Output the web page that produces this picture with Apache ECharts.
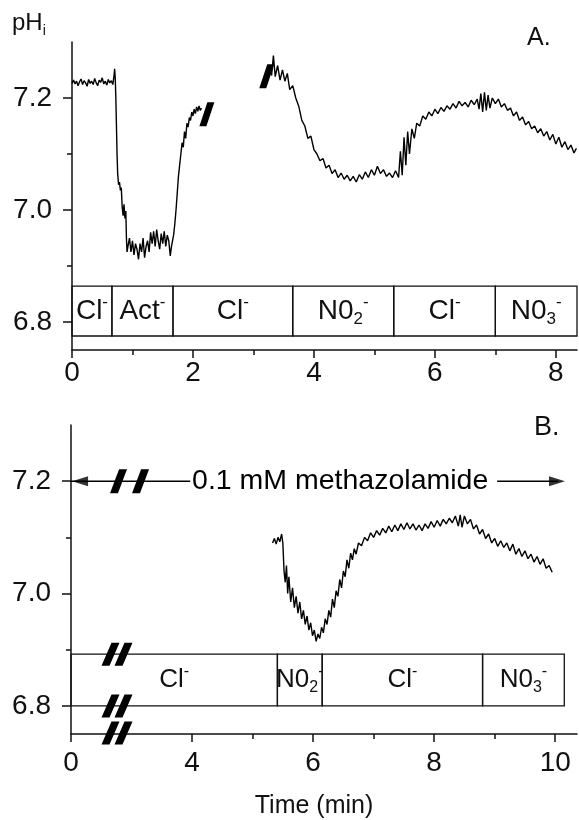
<!DOCTYPE html>
<html><head><meta charset="utf-8">
<script src="https://cdn.jsdelivr.net/npm/echarts@6/dist/echarts.min.js"></script>
<style>html,body{margin:0;padding:0;background:#fff}#c{width:579px;height:820px}</style>
</head><body><div id="c"></div>
<script>
const FONT = '"Liberation Sans", Arial, Helvetica, sans-serif';
const INK = '#111';

// ---------- Panel A ----------
const xTicksA = [0, 2, 4, 6, 8];
const xMinorA = [1, 3, 5, 7];
const yTicks = [6.8, 7.0, 7.2];
const yMinor = [6.9, 7.1];

const traceA1 = [
  [0.000,7.226],[0.025,7.232],[0.050,7.225],[0.075,7.230],[0.100,7.222],[0.125,7.229],[0.150,7.234],
  [0.175,7.224],[0.200,7.231],[0.225,7.227],[0.250,7.221],[0.275,7.233],[0.300,7.226],[0.325,7.230],
  [0.350,7.224],[0.375,7.235],[0.400,7.227],[0.425,7.222],[0.450,7.232],[0.475,7.228],[0.500,7.236],
  [0.525,7.225],[0.550,7.230],[0.575,7.223],[0.600,7.233],[0.625,7.227],[0.650,7.231],[0.675,7.224],
  [0.695,7.240],[0.705,7.252],[0.715,7.236],[0.725,7.200],[0.735,7.150],[0.745,7.100],[0.755,7.065],
  [0.770,7.045],[0.785,7.050],[0.800,7.035],[0.815,7.040],[0.830,7.005],[0.845,6.990],[0.860,7.010],
  [0.875,6.985],[0.890,6.998],[0.900,6.950],[0.910,6.925],
  [0.925,6.935],[0.950,6.950],[0.975,6.925],[1.000,6.945],[1.025,6.920],[1.050,6.940],[1.075,6.930],
  [1.100,6.912],[1.125,6.940],[1.150,6.925],[1.175,6.950],[1.200,6.915],[1.225,6.935],[1.250,6.945],
  [1.275,6.925],[1.300,6.960],[1.325,6.940],[1.350,6.962],[1.375,6.935],[1.400,6.965],[1.425,6.945],
  [1.450,6.930],[1.475,6.958],[1.500,6.940],[1.525,6.962],[1.550,6.935],[1.575,6.955],[1.600,6.945],
  [1.625,6.918],[1.645,6.935],
  [1.660,6.935],[1.680,6.955],[1.700,6.975],[1.720,7.000],[1.740,7.030],[1.760,7.060],[1.780,7.080],
  [1.800,7.100],[1.820,7.120],[1.840,7.112],[1.860,7.140],[1.880,7.128],[1.900,7.155],[1.920,7.148],
  [1.940,7.165],[1.960,7.160],[1.980,7.175],[2.000,7.168],[2.020,7.180],[2.040,7.172],[2.060,7.184],
  [2.080,7.176],[2.100,7.186],[2.120,7.178],[2.140,7.182]
];

const traceA2 = [
  [3.30,7.240],[3.33,7.276],[3.36,7.238],[3.40,7.258],[3.44,7.232],[3.48,7.250],[3.52,7.230],
  [3.56,7.244],[3.60,7.215],[3.65,7.222],[3.70,7.200],[3.75,7.185],[3.80,7.160],[3.85,7.150],
  [3.90,7.128],[3.95,7.132],[4.00,7.108],[4.05,7.100],[4.10,7.088],[4.15,7.092],[4.20,7.075],
  [4.25,7.080],[4.30,7.065],[4.35,7.072],[4.40,7.058],[4.45,7.066],[4.50,7.055],[4.55,7.062],
  [4.60,7.052],[4.65,7.060],[4.70,7.050],[4.75,7.063],[4.80,7.055],[4.85,7.068],[4.90,7.058],
  [4.95,7.072],[5.00,7.062],[5.05,7.078],[5.10,7.065],[5.15,7.072],[5.20,7.060],[5.25,7.066],
  [5.30,7.058],[5.35,7.070],[5.40,7.058],[5.43,7.105],[5.46,7.062],[5.49,7.130],[5.52,7.080],
  [5.55,7.140],[5.58,7.100],[5.62,7.145],[5.66,7.128],[5.70,7.155],[5.75,7.150],[5.80,7.168],
  [5.85,7.162],[5.90,7.175],[5.95,7.168],[6.00,7.180],[6.05,7.172],[6.10,7.183],[6.15,7.176],
  [6.20,7.186],[6.25,7.180],[6.30,7.190],[6.35,7.182],[6.40,7.194],[6.45,7.186],[6.50,7.192],
  [6.55,7.184],[6.60,7.196],[6.65,7.188],[6.70,7.198],[6.73,7.180],[6.76,7.208],[6.79,7.175],
  [6.82,7.210],[6.85,7.178],[6.88,7.205],[6.91,7.182],[6.95,7.200],[7.00,7.190],[7.05,7.198],
  [7.10,7.184],[7.15,7.190],[7.20,7.178],[7.25,7.182],[7.30,7.168],[7.35,7.175],[7.40,7.160],
  [7.45,7.166],[7.50,7.152],[7.55,7.158],[7.60,7.145],[7.65,7.150],[7.70,7.138],[7.75,7.145],
  [7.80,7.132],[7.85,7.140],[7.90,7.125],[7.95,7.135],[8.00,7.118],[8.05,7.130],[8.10,7.112],
  [8.15,7.122],[8.20,7.108],[8.25,7.116],[8.30,7.102],[8.34,7.110]
];

const boxEdgesA = [0, 0.66, 1.67, 3.65, 5.32, 7.0, 8.35];
const boxLabelsA = [['Cl','','-'],['Act','','-'],['Cl','','-'],['N0','2','-'],['Cl','','-'],['N0','3','-']];
const boxRangeA = [6.775, 6.864];
const breaksA = [[2.23, 7.171], [3.22, 7.239]];

// ---------- Panel B (axis is broken: label "0" sits at position 2) ----------
const xTickPosB = [2, 4, 6, 8, 10];
const xTickLabelsB = ['0', '4', '6', '8', '10'];
const xMinorB = [5, 7, 9];

const traceB = [
  [5.33,7.090],[5.36,7.098],[5.39,7.088],[5.42,7.100],[5.45,7.092],[5.48,7.106],[5.50,7.090],
  [5.52,7.040],[5.54,7.020],[5.56,7.050],[5.58,7.000],[5.60,7.030],[5.63,6.985],[5.66,7.010],
  [5.69,6.975],[5.72,6.995],[5.75,6.965],[5.78,6.985],[5.81,6.955],[5.84,6.970],[5.87,6.945],
  [5.90,6.960],[5.93,6.935],[5.96,6.948],[5.99,6.925],[6.02,6.935],[6.05,6.915],[6.08,6.928],
  [6.11,6.920],[6.14,6.940],[6.17,6.930],[6.20,6.955],[6.23,6.945],[6.26,6.970],[6.29,6.958],
  [6.32,6.990],[6.35,6.975],[6.38,7.005],[6.41,6.995],[6.44,7.025],[6.47,7.010],[6.50,7.040],
  [6.53,7.030],[6.56,7.060],[6.59,7.045],[6.62,7.072],[6.65,7.060],[6.68,7.080],[6.71,7.070],
  [6.75,7.090],[6.80,7.085],[6.85,7.100],[6.90,7.094],[6.95,7.108],[7.00,7.100],[7.05,7.112],
  [7.10,7.104],[7.15,7.116],[7.20,7.108],[7.25,7.120],[7.30,7.110],[7.35,7.122],[7.40,7.112],
  [7.45,7.124],[7.50,7.114],[7.55,7.126],[7.60,7.115],[7.65,7.124],[7.70,7.113],[7.75,7.122],
  [7.80,7.112],[7.85,7.124],[7.90,7.116],[7.95,7.128],[8.00,7.118],[8.05,7.130],[8.10,7.120],
  [8.15,7.132],[8.20,7.124],[8.25,7.134],[8.30,7.126],[8.35,7.138],[8.40,7.120],[8.43,7.140],
  [8.46,7.118],[8.50,7.138],[8.55,7.124],[8.60,7.132],[8.65,7.115],[8.70,7.122],[8.75,7.106],
  [8.80,7.114],[8.85,7.098],[8.90,7.106],[8.95,7.090],[9.00,7.098],[9.05,7.084],[9.10,7.094],
  [9.15,7.082],[9.20,7.090],[9.25,7.076],[9.30,7.088],[9.35,7.070],[9.40,7.080],[9.45,7.066],
  [9.50,7.076],[9.55,7.062],[9.60,7.070],[9.65,7.056],[9.70,7.066],[9.75,7.052],[9.80,7.062],
  [9.85,7.045],[9.90,7.050],[9.95,7.038]
];

const boxEdgesB = [2, 5.41, 6.15, 8.8, 10.15];
const boxLabelsB = [['Cl','','-'],['N0','2','-'],['Cl','','-'],['N0','3','-']];
const boxRangeB = [6.80, 6.892];

const drugLabel = '0.1 mM methazolamide';
const drugLabelAt = [[4.0, 7.2]];
const drugLineLeft = [[2.0, 7.2], [3.97, 7.2]];
const drugLineRight = [[9.04, 7.2], [10.05, 7.2]];
const drugArrowLeft = [[2.15, 7.2]];
const drugArrowRight = [[10.03, 7.2]];
const drugBreaks = [[2.785, 7.2], [3.149, 7.2]];
const axisBreaksB = [[2.76, 6.892], [2.76, 6.80], [2.76, 6.752]];

// ---------- helpers ----------
function richLabel(l) {
  return '{m|' + l[0] + '}' + (l[1] ? '{sub|' + l[1] + '}' : '') + (l[2] ? '{sup|' + l[2] + '}' : '');
}
function boxSeries(xi, yi, edges, range, labels, fs) {
  const data = labels.map((l, i) => [edges[i], edges[i + 1], range[0], range[1], i]);
  return {
    type: 'custom', xAxisIndex: xi, yAxisIndex: yi, clip: false, silent: true, z: 3,
    data: data,
    renderItem: function (params, api) {
      const p0 = api.coord([api.value(0), api.value(3)]);
      const p1 = api.coord([api.value(1), api.value(2)]);
      const lab = labels[api.value(4)];
      return {
        type: 'group',
        children: [
          { type: 'rect', shape: { x: p0[0], y: p0[1], width: p1[0] - p0[0], height: p1[1] - p0[1] },
            style: { fill: 'none', stroke: INK, lineWidth: 1.3 } },
          { type: 'text', x: (p0[0] + p1[0]) / 2, y: (p0[1] + p1[1]) / 2,
            style: {
              text: richLabel(lab), align: 'center', verticalAlign: 'middle',
              fontFamily: FONT, fontSize: fs, fill: INK,
              rich: {
                m: { fontFamily: FONT, fontSize: fs, fill: INK, lineHeight: fs + 6 },
                sub: { fontFamily: FONT, fontSize: Math.round(fs * 0.62), fill: INK, verticalAlign: 'bottom' },
                sup: { fontFamily: FONT, fontSize: Math.round(fs * 0.62), fill: INK, verticalAlign: 'top' }
              }
            } }
        ]
      };
    }
  };
}
function textSeries(xi, yi, data, text, fs) {
  return {
    type: 'custom', xAxisIndex: xi, yAxisIndex: yi, clip: false, silent: true, z: 6,
    data: data,
    renderItem: function (params, api) {
      const p = api.coord([api.value(0), api.value(1)]);
      return { type: 'text', x: p[0], y: p[1],
        style: { text: text, align: 'left', verticalAlign: 'middle', fontFamily: FONT, fontSize: fs, fill: '#000' } };
    }
  };
}
function mainX(gi, min, max, ticks, fmt, margin) {
  return {
    type: 'value', gridIndex: gi, min: min, max: max, position: 'bottom',
    axisLine: { show: true, onZero: false, lineStyle: { color: INK, width: 1.5 } },
    axisTick: { show: true, customValues: ticks, length: 8, lineStyle: { color: INK, width: 1.5 } },
    axisLabel: { show: true, customValues: ticks, formatter: fmt, margin: margin,
      fontSize: 28, fontFamily: FONT, color: INK },
    splitLine: { show: false }
  };
}
function minorX(gi, min, max, ticks) {
  return {
    type: 'value', gridIndex: gi, min: min, max: max, position: 'bottom',
    axisLine: { show: false, onZero: false },
    axisTick: { show: true, customValues: ticks, length: 5, lineStyle: { color: INK, width: 1.5 } },
    axisLabel: { show: false }, splitLine: { show: false }
  };
}
function mainY(gi) {
  return {
    type: 'value', gridIndex: gi, min: 6.75, max: 7.3, position: 'left',
    axisLine: { show: true, onZero: false, lineStyle: { color: INK, width: 1.5 } },
    axisTick: { show: true, customValues: yTicks, length: 9, lineStyle: { color: INK, width: 1.5 } },
    axisLabel: { show: true, customValues: yTicks, formatter: v => v.toFixed(1), margin: 20,
      fontSize: 28, fontFamily: FONT, color: INK },
    splitLine: { show: false }
  };
}
function minorY(gi) {
  return {
    type: 'value', gridIndex: gi, min: 6.75, max: 7.3, position: 'left',
    axisLine: { show: false, onZero: false },
    axisTick: { show: true, customValues: yMinor, length: 5, lineStyle: { color: INK, width: 1.5 } },
    axisLabel: { show: false }, splitLine: { show: false }
  };
}
function trace(xi, yi, data) {
  return { type: 'line', xAxisIndex: xi, yAxisIndex: yi, data: data, showSymbol: false, symbol: 'none',
    lineStyle: { color: '#000', width: 1.4 }, silent: true, z: 4 };
}
const BAR = 'path://M8,0L15,0L7,24L0,24Z';
const DBAR = 'path://M10,0L18,0L8,23L0,23ZM23,0L31,0L21,23L13,23Z';
function marks(xi, yi, data, symbol, size) {
  return { type: 'scatter', xAxisIndex: xi, yAxisIndex: yi, data: data, symbol: symbol, symbolSize: size,
    itemStyle: { color: '#000', opacity: 1 }, clip: false, silent: true, z: 6 };
}

const xFmtB = v => xTickLabelsB[xTickPosB.indexOf(v)];

const option = {
  animation: false,
  backgroundColor: '#fff',
  grid: [
    { left: 72, top: 42, width: 505, height: 308, outerBoundsMode: 'none' },
    { left: 71, top: 425, width: 506, height: 309, outerBoundsMode: 'none' }
  ],
  xAxis: [
    mainX(0, 0, 8.35, xTicksA, v => String(v), 9),
    minorX(0, 0, 8.35, xMinorA),
    mainX(1, 2, 10.36, xTickPosB, xFmtB, 15),
    minorX(1, 2, 10.36, xMinorB)
  ],
  yAxis: [mainY(0), minorY(0), mainY(1), minorY(1)],
  series: [
    trace(0, 0, traceA1),
    trace(0, 0, traceA2),
    boxSeries(0, 0, boxEdgesA, boxRangeA, boxLabelsA, 28),
    marks(0, 0, breaksA, BAR, [15, 24]),
    trace(2, 2, traceB),
    boxSeries(2, 2, boxEdgesB, boxRangeB, boxLabelsB, 26),
    trace(2, 2, drugLineLeft),
    trace(2, 2, drugLineRight),
    { type: 'scatter', xAxisIndex: 2, yAxisIndex: 2, data: drugArrowLeft, symbol: 'triangle',
      symbolSize: [10, 16], symbolRotate: 90, itemStyle: { color: '#000' }, clip: false, silent: true, z: 6 },
    { type: 'scatter', xAxisIndex: 2, yAxisIndex: 2, data: drugArrowRight, symbol: 'triangle',
      symbolSize: [10, 16], symbolRotate: -90, itemStyle: { color: '#000' }, clip: false, silent: true, z: 6 },
    textSeries(2, 2, drugLabelAt, drugLabel, 28.5),
    marks(2, 2, drugBreaks, BAR, [17, 24]),
    marks(2, 2, axisBreaksB, DBAR, [31, 23])
  ],
  graphic: [
    { type: 'text', left: 12, top: 11, style: {
        text: '{a|pH}{b|i}', fontFamily: FONT, fill: INK,
        rich: { a: { fontFamily: FONT, fontSize: 24, fill: INK, lineHeight: 30 },
                b: { fontFamily: FONT, fontSize: 14, fill: INK, verticalAlign: 'bottom' } } } },
    { type: 'text', left: 527, top: 26, style: { text: 'A.', fontFamily: FONT, fontSize: 25, fill: INK } },
    { type: 'text', left: 534, top: 414, style: { text: 'B.', fontFamily: FONT, fontSize: 27, fill: INK } },
    { type: 'text', x: 314, y: 806, style: { text: 'Time (min)', fontFamily: FONT, fontSize: 25, fill: INK,
        align: 'center', verticalAlign: 'middle' } }
  ]
};
const chart = echarts.init(document.getElementById('c'), null, { renderer: 'canvas' });
chart.setOption(option);
</script>
</body></html>
